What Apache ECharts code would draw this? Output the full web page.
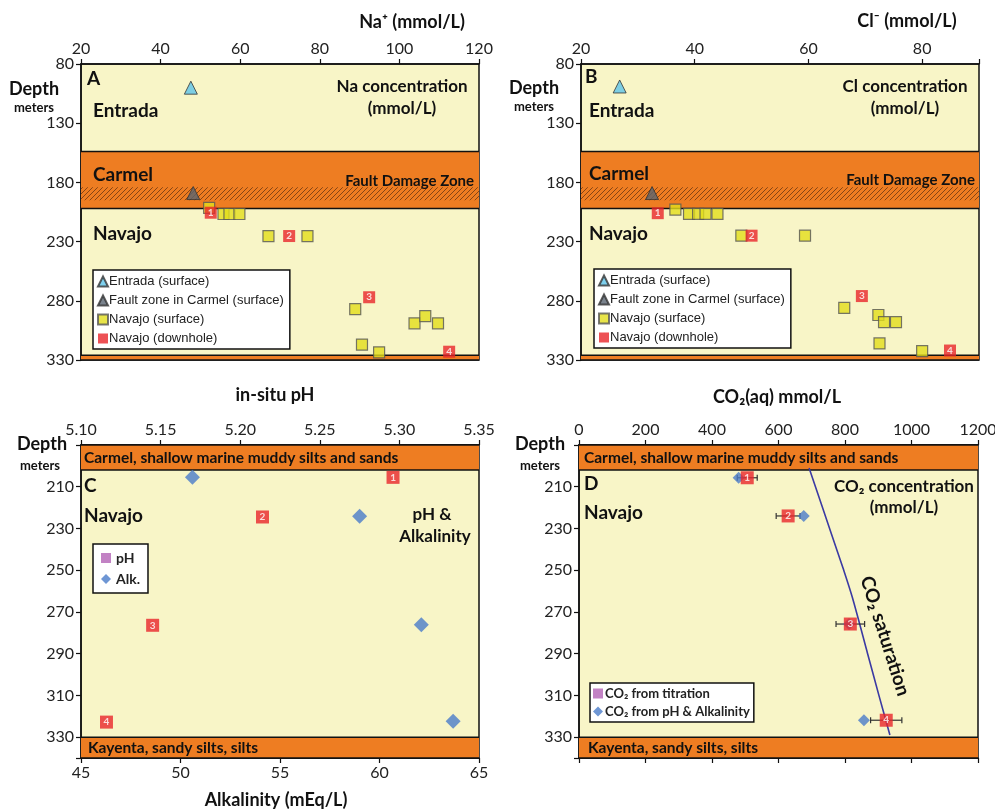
<!DOCTYPE html>
<html><head><meta charset="utf-8">
<script src="https://cdn.jsdelivr.net/npm/echarts@6/dist/echarts.min.js"></script>
<style>html,body{margin:0;padding:0;background:#fff}#c{width:995px;height:810px}</style>
</head><body><div id="c"></div>
<script>
// ---------- DATA ----------
// Panel A: Na+ (mmol/L) vs depth (m)
const naEntrada = [[47.6, 100]];
const naFault = [[48.2, 189]];
const naSurface = [[52.2, 201.5], [55.8, 206.7], [57.3, 206.7], [59.8, 206.7], [67.1, 225.3], [76.9, 225.3],
  [88.9, 287], [103.8, 299], [106.5, 293], [109.7, 299], [90.6, 317], [94.9, 323.5]];
const naDownhole = [[52.6, 205.6, 1], [72.3, 225.3, 2], [92.4, 277, 3], [112.5, 323, 4]];
// Panel B: Cl- (mmol/L) vs depth
const clEntrada = [[26.8, 99]];
const clFault = [[32.5, 189]];
const clSurface = [[36.6, 203], [39.0, 206.5], [40.6, 206.5], [41.9, 206.5], [44.0, 206.5], [48.2, 225], [59.4, 225],
  [66.3, 286], [72.3, 292], [73.3, 298], [75.4, 298], [72.5, 316], [80.0, 322.5]];
const clDownhole = [[33.5, 206, 1], [50.0, 225, 2], [69.4, 276, 3], [84.9, 322, 4]];
// Panel C: pH and alkalinity vs depth
const phDownhole = [[5.296, 205.5, 1], [5.214, 224.5, 2], [5.145, 276.4, 3], [5.116, 322.8, 4]];
const alkalinity = [[50.6, 205.5], [59.0, 224.2], [62.1, 276.2], [63.7, 322.4]];
// Panel D: CO2 vs depth
const co2Titration = [[506, 205.7, 1], [629, 224, 2], [816, 275.8, 3], [924, 321.9, 4]];
const co2TitrationErr = [30, 36, 43, 47];
const co2PhAlk = [[480, 205.7], [676, 224], [812, 275.8], [857, 321.9]];
const co2Saturation = [[692, 201], [760, 233], [794, 249], [822, 263], [868, 290], [902, 310], [935, 329]];
// Formation bands (depth m)
const carmelAB = [154, 202];
const faultZoneAB = [184, 195];
const kayentaAB = [326, 330];
const carmelCD = [190, 202];
const kayentaCD = [330, 340];
// Axis ticks
const naTicks = {min: 20, max: 120, interval: 20};
const clTicks = {min: 20, max: 90, interval: 20};
const depthTicksAB = {min: 80, max: 330, interval: 50};
const depthTicksCD = {min: 190, max: 340, interval: 20};
const alkTicks = {min: 45, max: 65, interval: 5};
const phTicks = {min: 5.10, max: 5.35, interval: 0.05};
const co2Ticks = {min: 0, max: 1200, interval: 200};

// ---------- STYLE ----------
const FONT = 'Lato, "Open Sans", sans-serif';
const ARIAL = '"Liberation Sans", Arial, sans-serif';
const BG = '#f8f5c7', ORANGE = '#ee7d22', RED = '#e8262b', YEL = '#e2dd1c', BLUE = '#4a7cc9', PURPLE = '#b363b5';

const hatch = document.createElement('canvas');
hatch.width = 5; hatch.height = 5;
(function () {
  const g = hatch.getContext('2d');
  g.fillStyle = ORANGE; g.fillRect(0, 0, 5, 5);
  g.strokeStyle = 'rgba(90,45,15,0.7)'; g.lineWidth = 1;
  g.beginPath(); g.moveTo(0, 5); g.lineTo(5, 0); g.moveTo(-3, 3); g.lineTo(3, -3); g.moveTo(2, 8); g.lineTo(8, 2); g.stroke();
})();
const hatchFill = {type: 'pattern', image: hatch, repeat: 'repeat'};

const chart = echarts.init(document.getElementById('c'));

function grid(left, top, width, height) {
  return {left, top, width, height, show: true, backgroundColor: BG, borderColor: '#111', borderWidth: 1.5, outerBoundsMode: 'none', containLabel: false};
}
const baseLabel = {show: true, color: '#222', fontFamily: FONT, fontSize: 16, margin: 7};
function axis(gi, pos, t, extra) {
  return Object.assign({
    type: 'value', gridIndex: gi, position: pos, min: t.min, max: t.max, interval: t.interval,
    splitLine: {show: false},
    axisLine: {show: true, onZero: false, lineStyle: {color: '#111', width: 1.5}},
    axisTick: {show: true, inside: false, length: 5, lineStyle: {color: '#111', width: 1.2}},
    axisLabel: Object.assign({}, baseLabel, {formatter: v => String(v)})
  }, extra || {});
}
function bandSeries(xi, yi, xmin, bands, hatched) {
  const data = bands.map(b => [b[0], b[1], 0]);
  if (hatched) data.push([hatched[0], hatched[1], 1]);
  return {
    type: 'custom', xAxisIndex: xi, yAxisIndex: yi, silent: true, z: 1, data: data,
    encode: {x: 2, y: [0, 1]},
    renderItem: (params, api) => {
      const cs = params.coordSys;
      const y0 = api.coord([xmin, api.value(0)])[1];
      const y1 = api.coord([xmin, api.value(1)])[1];
      if (api.value(2) === 1) {
        return {type: 'rect', shape: {x: cs.x, y: y0, width: cs.width, height: y1 - y0}, style: {fill: hatchFill}};
      }
      return {type: 'group', children: [
        {type: 'rect', shape: {x: cs.x, y: y0, width: cs.width, height: y1 - y0}, style: {fill: ORANGE}},
        {type: 'line', shape: {x1: cs.x, y1: y0, x2: cs.x + cs.width, y2: y0}, style: {stroke: '#111', lineWidth: 1.5}},
        {type: 'line', shape: {x1: cs.x, y1: y1, x2: cs.x + cs.width, y2: y1}, style: {stroke: '#111', lineWidth: 1.5}}
      ]};
    }
  };
}
const numLabel = (fs) => ({show: true, position: 'inside', formatter: p => p.value[2], color: '#fff', fontFamily: FONT, fontWeight: 'bold', fontSize: fs});

function text(x, y, str, size, align, extra) {
  return Object.assign({type: 'text', x: x, y: y, z: 100, silent: true,
    style: {text: str, fontFamily: FONT, fontWeight: 'bold', fontSize: size, fill: '#111', align: align || 'left', verticalAlign: 'middle'}},
    extra && extra.rotation ? {rotation: extra.rotation} : {});
}

const depthFmtCD = v => (v === depthTicksCD.min || v === depthTicksCD.max) ? '' : String(v);

const option = {
  animation: false,
  backgroundColor: '#fff',
  grid: [grid(81, 64, 398, 296), grid(581, 64, 398, 296), grid(81, 445, 398, 313), grid(579, 445, 399, 313)],
  xAxis: [
    axis(0, 'top', naTicks),
    axis(1, 'top', clTicks, {axisLabel: Object.assign({}, baseLabel, {formatter: v => v === clTicks.max ? '' : String(v)})}),
    axis(2, 'bottom', alkTicks),
    axis(2, 'top', phTicks, {axisLabel: Object.assign({}, baseLabel, {formatter: v => v.toFixed(2)})}),
    axis(3, 'top', co2Ticks),
    axis(3, 'bottom', co2Ticks, {axisLabel: {show: false}})
  ],
  yAxis: [
    axis(0, 'left', depthTicksAB, {inverse: true}),
    axis(1, 'left', depthTicksAB, {inverse: true}),
    axis(2, 'left', depthTicksCD, {inverse: true, axisLabel: Object.assign({}, baseLabel, {formatter: depthFmtCD})}),
    axis(3, 'left', depthTicksCD, {inverse: true, axisLabel: Object.assign({}, baseLabel, {formatter: depthFmtCD})})
  ],
  legend: [
    {left: 93, top: 270, orient: 'vertical', selectedMode: false, backgroundColor: '#fff', borderColor: '#111', borderWidth: 1.5,
      padding: [5, 6, 4, 4], itemGap: 6, itemWidth: 10, itemHeight: 10,
      textStyle: {fontFamily: ARIAL, fontSize: 13, color: '#222', padding: [0, 0, 0, -4]},
      data: ['Entrada (surface)', 'Fault zone in Carmel (surface)', 'Navajo (surface)', 'Navajo (downhole)']},
    {left: 594, top: 269, orient: 'vertical', selectedMode: false, backgroundColor: '#fff', borderColor: '#111', borderWidth: 1.5,
      padding: [5, 6, 4, 4], itemGap: 6, itemWidth: 10, itemHeight: 10,
      textStyle: {fontFamily: ARIAL, fontSize: 13, color: '#222', padding: [0, 0, 0, -4]},
      data: ['Entrada (surface)', 'Fault zone in Carmel (surface)', 'Navajo (surface)', 'Navajo (downhole)']},
    {left: 93, top: 544, orient: 'vertical', selectedMode: false, backgroundColor: '#fff', borderColor: '#111', borderWidth: 1.5,
      padding: [7, 8, 7, 8], itemGap: 7, itemWidth: 10, itemHeight: 10,
      textStyle: {fontFamily: FONT, fontWeight: 'bold', fontSize: 14, color: '#222'},
      data: [{name: 'pH', icon: 'rect', itemStyle: {color: PURPLE, borderWidth: 0}}, {name: 'Alk.', icon: 'diamond'}]},
    {left: 590, top: 683, orient: 'vertical', selectedMode: false, backgroundColor: '#fff', borderColor: '#111', borderWidth: 1.5,
      padding: [4, 4, 4, 3], itemGap: 5, itemWidth: 10, itemHeight: 10,
      textStyle: {fontFamily: FONT, fontWeight: 'bold', fontSize: 13, color: '#222', padding: [0, 0, 0, -3]},
      data: [{name: 'CO₂ from titration', icon: 'rect', itemStyle: {color: PURPLE, borderWidth: 0}}, {name: 'CO₂ from pH & Alkalinity', icon: 'diamond'}]}
  ],
  series: [
    bandSeries(0, 0, naTicks.min, [carmelAB, kayentaAB], faultZoneAB),
    bandSeries(1, 1, clTicks.min, [carmelAB, kayentaAB], faultZoneAB),
    bandSeries(2, 2, alkTicks.min, [carmelCD, kayentaCD]),
    bandSeries(4, 3, co2Ticks.min, [carmelCD, kayentaCD]),
    // Panel A
    {name: 'Entrada (surface)', type: 'scatter', xAxisIndex: 0, yAxisIndex: 0, z: 5, symbol: 'triangle', symbolSize: 13, data: naEntrada,
      itemStyle: {color: '#5ec4ea', borderColor: '#333', borderWidth: 1}},
    {name: 'Fault zone in Carmel (surface)', type: 'scatter', xAxisIndex: 0, yAxisIndex: 0, z: 5, symbol: 'triangle', symbolSize: 13, data: naFault,
      itemStyle: {color: '#596470', borderColor: '#333', borderWidth: 1}},
    {name: 'Navajo (surface)', type: 'scatter', xAxisIndex: 0, yAxisIndex: 0, z: 5, symbol: 'rect', symbolSize: 11, data: naSurface,
      itemStyle: {color: YEL, borderColor: '#555', borderWidth: 1.2}},
    {name: 'Navajo (downhole)', type: 'scatter', xAxisIndex: 0, yAxisIndex: 0, z: 6, symbol: 'rect', symbolSize: 12, data: naDownhole,
      itemStyle: {color: RED}, label: numLabel(10)},
    // Panel B
    {name: 'Entrada (surface)', type: 'scatter', xAxisIndex: 1, yAxisIndex: 1, z: 5, symbol: 'triangle', symbolSize: 13, data: clEntrada,
      itemStyle: {color: '#5ec4ea', borderColor: '#333', borderWidth: 1}},
    {name: 'Fault zone in Carmel (surface)', type: 'scatter', xAxisIndex: 1, yAxisIndex: 1, z: 5, symbol: 'triangle', symbolSize: 13, data: clFault,
      itemStyle: {color: '#596470', borderColor: '#333', borderWidth: 1}},
    {name: 'Navajo (surface)', type: 'scatter', xAxisIndex: 1, yAxisIndex: 1, z: 5, symbol: 'rect', symbolSize: 11, data: clSurface,
      itemStyle: {color: YEL, borderColor: '#555', borderWidth: 1.2}},
    {name: 'Navajo (downhole)', type: 'scatter', xAxisIndex: 1, yAxisIndex: 1, z: 6, symbol: 'rect', symbolSize: 12, data: clDownhole,
      itemStyle: {color: RED}, label: numLabel(10)},
    // Panel C
    {name: 'pH', type: 'scatter', xAxisIndex: 3, yAxisIndex: 2, z: 5, symbol: 'rect', symbolSize: 13, data: phDownhole,
      itemStyle: {color: RED}, label: numLabel(10)},
    {name: 'Alk.', type: 'scatter', xAxisIndex: 2, yAxisIndex: 2, z: 5, symbol: 'diamond', symbolSize: 15, data: alkalinity,
      itemStyle: {color: BLUE}},
    // Panel D
    {name: 'CO₂ saturation', type: 'line', xAxisIndex: 4, yAxisIndex: 3, z: 3, smooth: 0.3, showSymbol: false, symbol: 'none',
      data: co2Saturation, lineStyle: {color: '#3b3aa3', width: 1.6}},
    {type: 'custom', xAxisIndex: 4, yAxisIndex: 3, z: 4, silent: true,
      data: co2Titration.map((d, i) => [d[0], d[1], co2TitrationErr[i]]),
      renderItem: (params, api) => {
        const c = api.value(0), d = api.value(1), e = api.value(2);
        const p1 = api.coord([c - e, d]), p2 = api.coord([c + e, d]);
        const s = {stroke: '#333', lineWidth: 1.2};
        return {type: 'group', children: [
          {type: 'line', shape: {x1: p1[0], y1: p1[1], x2: p2[0], y2: p2[1]}, style: s},
          {type: 'line', shape: {x1: p1[0], y1: p1[1] - 3, x2: p1[0], y2: p1[1] + 3}, style: s},
          {type: 'line', shape: {x1: p2[0], y1: p2[1] - 3, x2: p2[0], y2: p2[1] + 3}, style: s}
        ]};
      }},
    {name: 'CO₂ from pH & Alkalinity', type: 'scatter', xAxisIndex: 4, yAxisIndex: 3, z: 5, symbol: 'diamond', symbolSize: 12, data: co2PhAlk,
      itemStyle: {color: BLUE}},
    {name: 'CO₂ from titration', type: 'scatter', xAxisIndex: 4, yAxisIndex: 3, z: 6, symbol: 'rect', symbolSize: 13, data: co2Titration,
      itemStyle: {color: RED}, label: numLabel(10)}
  ],
  graphic: [
    // axis titles
    text(412, 22, 'Na⁺ (mmol/L)', 18, 'center'),
    text(907, 21, 'Cl⁻ (mmol/L)', 18, 'center'),
    text(275, 395, 'in-situ pH', 18, 'center'),
    text(777, 397, 'CO₂(aq) mmol/L', 18, 'center'),
    text(276, 800, 'Alkalinity (mEq/L)', 18, 'center'),
    // depth labels
    text(34, 89, 'Depth', 18, 'center'), text(34, 108, 'meters', 13, 'center'),
    text(534, 88, 'Depth', 18, 'center'), text(534, 107, 'meters', 13, 'center'),
    text(42, 444, 'Depth', 18, 'center'), text(40, 466, 'meters', 13, 'center'),
    text(540, 444, 'Depth', 18, 'center'), text(540, 466, 'meters', 13, 'center'),
    // Panel A
    text(87, 79, 'A', 19), text(93, 111, 'Entrada', 19),
    text(402, 87, 'Na concentration', 17, 'center'), text(402, 109, '(mmol/L)', 17, 'center'),
    text(93, 175, 'Carmel', 19), text(474, 181, 'Fault Damage Zone', 15, 'right'),
    text(93, 234, 'Navajo', 19),
    // Panel B
    text(585, 77, 'B', 19), text(589, 111, 'Entrada', 19),
    text(905, 87, 'Cl concentration', 17, 'center'), text(905, 109, '(mmol/L)', 17, 'center'),
    text(589, 174, 'Carmel', 19), text(975, 180, 'Fault Damage Zone', 15, 'right'),
    text(589, 234, 'Navajo', 19),
    // Panel C
    text(84, 458, 'Carmel, shallow marine muddy silts and sands', 15.5),
    text(84, 486, 'C', 19), text(84, 516, 'Navajo', 19),
    text(432, 515, 'pH &', 17, 'center'), text(435, 537, 'Alkalinity', 17, 'center'),
    text(88, 748, 'Kayenta, sandy silts, silts', 15.5),
    // Panel D
    text(584, 458, 'Carmel, shallow marine muddy silts and sands', 15.5),
    text(584, 484, 'D', 19), text(584, 513, 'Navajo', 19),
    text(904, 487, 'CO₂ concentration', 17, 'center'), text(904, 508, '(mmol/L)', 17, 'center'),
    text(588, 748, 'Kayenta, sandy silts, silts', 15.5),
    text(885, 636, 'CO₂ saturation', 19, 'center', {rotation: -72.4 * Math.PI / 180})
  ]
};
chart.setOption(option);
</script></body></html>
